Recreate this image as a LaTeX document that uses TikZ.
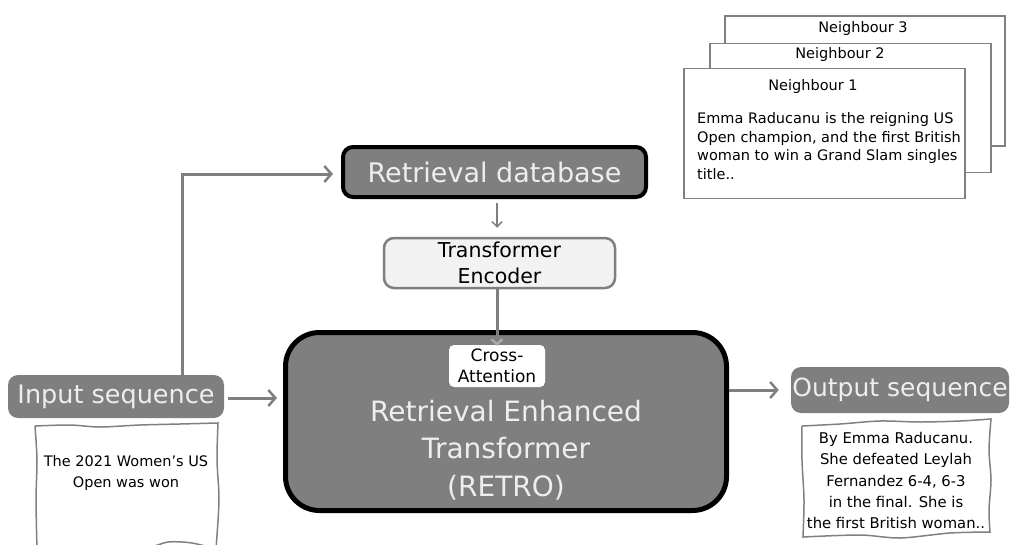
\documentclass[tikz,border=0pt]{standalone}
\usepackage{fontspec}
\setmainfont{DejaVu Sans}
\usetikzlibrary{arrows.meta}
\definecolor{darkbox}{RGB}{127,127,127}
\definecolor{lighttext}{RGB}{238,238,238}
\definecolor{encfill}{RGB}{242,242,242}
\definecolor{linegray}{RGB}{128,128,128}
\definecolor{headgray}{RGB}{170,170,170}
\tikzset{
  fs/.style 2 args={font=\fontsize{#1}{#2}\selectfont},
  darkpill/.style={fill=darkbox, rounded corners=10pt, text=lighttext, inner sep=0pt},
  boldbox/.style={draw=black, fill=darkbox, text=lighttext, inner sep=0pt},
  encbox/.style={draw=darkbox, line width=2.5pt, fill=encfill, rounded corners=10pt, inner sep=0pt, align=center},
  nbox/.style={draw=linegray, line width=1.8pt, fill=white, minimum width=#1, inner sep=0pt},
  hand/.style={draw=linegray, line width=1.5pt},
  arr/.style={draw=darkbox, line width=3pt, -{Straight Barb[length=7pt, width=16pt, line width=2.5pt]}},
  thinarr/.style={draw=darkbox, line width=1.5pt, -{Straight Barb[length=5pt, width=10pt, line width=1.5pt]}},
  inarr/.style={draw=darkbox, line width=3pt, -{Straight Barb[length=5pt, width=11pt, line width=2.5pt, color=headgray]}},
}
\begin{document}
\begin{tikzpicture}[x=1pt, y=-1pt]
\useasboundingbox (0,0) rectangle (1010,544);

% stacked neighbour cards
\node[nbox=280pt, minimum height=130pt] (n3) at (865,81) {};
\node[fs={14.5}{18}] (n3lab) at (863,28) {Neighbour 3};
\node[nbox=281pt, minimum height=129pt] (n2) at (850.5,108) {};
\node[fs={14.5}{18}] (n2lab) at (840,54) {Neighbour 2};
\node[nbox=281pt, minimum height=130pt] (n1) at (824.5,133.5) {};
\node[fs={14.5}{18}] (n1lab) at (813,86) {Neighbour 1};
\node[fs={14.5}{18.8}, align=left, anchor=north west, inner sep=0pt] (n1txt) at (697,112)
  {Emma Raducanu is the reigning US\\Open champion, and the first British\\woman to win a Grand Slam singles\\title..};

% retrieval database and encoder
\node[boldbox, line width=4pt, rounded corners=10pt, minimum width=303pt, minimum height=50pt, fs={27}{30}] (rd) at (494.5,172) {Retrieval database};
\node[encbox, minimum width=231pt, minimum height=50pt, fs={20.5}{26}] (te) at (499.5,263) {Transformer\\Encoder};

% main model
\node[boldbox, line width=5pt, rounded corners=34pt, minimum width=441pt, minimum height=178pt] (retro) at (506,421.5) {};
\node[fs={28}{37.5}, text=lighttext, align=center] (retrotxt) at (506,450) {Retrieval Enhanced\\Transformer\\(RETRO)};
\node[fill=white, rounded corners=5pt, minimum width=96pt, minimum height=42pt, inner sep=0pt, align=center, fs={17}{21.5}] (ca) at (497,366) {Cross-\\Attention};

% input and output
\node[darkpill, minimum width=216pt, minimum height=43pt, fs={25.5}{28}] (inp) at (116,396.5) {Input sequence};
\node[darkpill, minimum width=218pt, minimum height=46pt, fs={25}{28}] (outp) at (900,390) {Output sequence};

% hand-drawn text cards
\draw[hand] plot[smooth, tension=0.5] coordinates {(35,426) (70,425) (100,427) (140,425) (180,424) (218,423)}
  -- plot[smooth, tension=0.5] coordinates {(218,423) (217,460) (219,500) (216,549)}
  -- plot[smooth, tension=0.5] coordinates {(216,549) (192,543) (168,542) (140,548) (37,549)}
  -- plot[smooth, tension=0.5] coordinates {(37,549) (36,500) (37,460) (35,426)};
\node[fs={14.5}{21}, align=center] (intxt) at (126,473) {The 2021 Women’s US\\Open was won};

\draw[hand] plot[smooth, tension=0.5] coordinates {(802,426) (840,424) (880,421) (920,422) (960,421) (991,419)}
  -- plot[smooth, tension=0.5] coordinates {(991,419) (989,450) (991,480) (989,510) (990,532)}
  -- plot[smooth, tension=0.5] coordinates {(990,532) (950,533) (900,538) (860,535) (803,537)}
  -- plot[smooth, tension=0.5] coordinates {(803,537) (804,500) (802,460) (802,426)};
\node[fs={14.8}{21.2}, align=center] (outtxt) at (896,480.5) {By Emma Raducanu.\\She defeated Leylah\\Fernandez 6-4, 6-3\\in the final. She is\\the first British woman..};

% connectors
\coordinate (bend) at (182,174);
\draw[arr] (bend |- inp.north) -- (bend) -- ([xshift=-8pt]rd.west |- bend);
\draw[arr] ([xshift=4pt]inp.east |- 0,398) -- ([xshift=-6pt]retro.west |- 0,398);
\draw[arr] (retro.east |- outp.west) -- ([xshift=-12pt]outp.west);
\draw[thinarr] ([yshift=-4pt]rd.south -| ca.north) -- ([yshift=9pt]te.north -| ca.north);
\draw[inarr] (te.south -| ca.north) -- ([yshift=-1pt]ca.north);
\end{tikzpicture}
\end{document}
